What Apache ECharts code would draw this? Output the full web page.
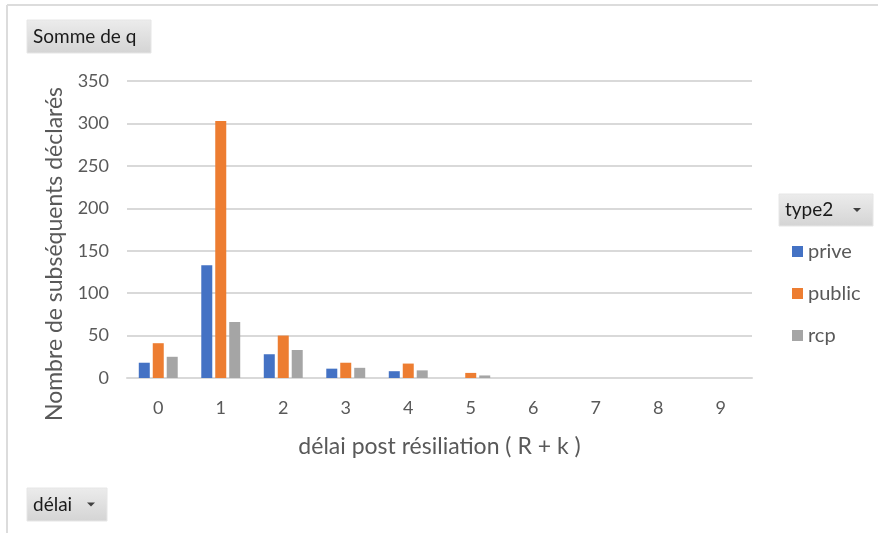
<!DOCTYPE html>
<html>
<head>
<meta charset="utf-8">
<script src="https://cdn.jsdelivr.net/npm/echarts@6/dist/echarts.min.js"></script>
<style>
  html, body { margin: 0; padding: 0; background: #fff; }
  #chart { width: 878px; height: 533px; }
</style>
</head>
<body>
<div id="chart"></div>
<script>
// Délai post résiliation (R + k)
const categories = ['0', '1', '2', '3', '4', '5', '6', '7', '8', '9'];
const prive  = [18, 133, 28, 11, 8, 0, 0, 0, 0, 0];
const publicV = [41, 303, 50, 18, 17, 6, 0, 0, 0, 0];
const rcp    = [25, 66, 33, 12, 9, 3, 0, 0, 0, 0];
const yTicks = { min: 0, max: 350, interval: 50 };
const yTitle = 'Nombre de subséquents déclarés';
const xTitle = 'délai post résiliation ( R + k )';

const FONT = 'Lato, "Open Sans", sans-serif';
const TEXT_GRAY = '#595959';

const chart = echarts.init(document.getElementById('chart'));

// pivot-field button (grey gradient box with label, optional drop-down arrow)
function fieldButton(x, y, w, h, label, arrow) {
  const children = [
    {
      type: 'rect',
      shape: { x: 0, y: 0, width: w, height: h },
      style: {
        fill: new echarts.graphic.LinearGradient(0, 0, 0, 1, [
          { offset: 0, color: '#ececec' },
          { offset: 1, color: '#d4d4d4' }
        ]),
        stroke: '#e6e6e6', lineWidth: 1
      }
    },
    {
      type: 'text',
      style: { x: 6, y: h / 2, text: label, fill: '#1a1a1a', font: '19px ' + FONT, textVerticalAlign: 'middle' }
    }
  ];
  if (arrow) {
    children.push({
      type: 'polygon',
      shape: { points: [[w - 20, h / 2 - 2], [w - 12, h / 2 - 2], [w - 16, h / 2 + 2]] },
      style: { fill: '#404040' }
    });
  }
  return { type: 'group', x: x, y: y, children: children };
}

const option = {
  backgroundColor: '#fff',
  animation: false,
  color: ['#4472C4', '#ED7D31', '#A5A5A5'],
  textStyle: { fontFamily: FONT },
  grid: { left: 127, right: 126, top: 81, bottom: 155 },
  legend: {
    orient: 'vertical',
    left: 787, top: 236,
    itemWidth: 11, itemHeight: 11, itemGap: 21,
    icon: 'rect',
    textStyle: { color: TEXT_GRAY, fontSize: 20, lineHeight: 21, fontFamily: FONT },
    data: ['prive', 'public', 'rcp']
  },
  xAxis: {
    type: 'category',
    data: categories,
    name: xTitle,
    nameLocation: 'middle',
    nameGap: 57,
    nameTextStyle: { color: TEXT_GRAY, fontSize: 23, fontFamily: FONT },
    axisLine: { show: true, lineStyle: { color: '#d9d9d9', width: 2 } },
    axisTick: { show: false },
    axisLabel: { color: TEXT_GRAY, fontSize: 18, margin: 21, fontFamily: FONT }
  },
  yAxis: {
    type: 'value',
    min: yTicks.min, max: yTicks.max, interval: yTicks.interval,
    axisLine: { show: false },
    axisTick: { show: false },
    axisLabel: { color: TEXT_GRAY, fontSize: 18, margin: 18, fontFamily: FONT },
    splitLine: { lineStyle: { color: '#d9d9d9', width: 2 } }
  },
  series: [
    { name: 'prive', type: 'bar', data: prive, barWidth: 11, barGap: '27%' },
    { name: 'public', type: 'bar', data: publicV, barWidth: 11, barGap: '27%' },
    { name: 'rcp', type: 'bar', data: rcp, barWidth: 11, barGap: '27%' }
  ],
  graphic: [
    // outer frame (top and left edges)
    { type: 'line', shape: { x1: 7, y1: 5, x2: 878, y2: 5 }, style: { stroke: '#dcdcdc', lineWidth: 2 } },
    { type: 'line', shape: { x1: 7, y1: 5, x2: 7, y2: 533 }, style: { stroke: '#dcdcdc', lineWidth: 2 } },
    // vertical axis title
    {
      type: 'text', x: 55, y: 254, rotation: Math.PI / 2,
      style: { text: yTitle, fill: TEXT_GRAY, font: '23px ' + FONT, align: 'center', verticalAlign: 'middle' }
    },
    fieldButton(27, 20, 124, 33, 'Somme de q', false),
    fieldButton(779, 194, 94, 32, 'type2', true),
    fieldButton(27, 488, 80, 33, 'délai', true)
  ]
};

chart.setOption(option);
</script>
</body>
</html>
